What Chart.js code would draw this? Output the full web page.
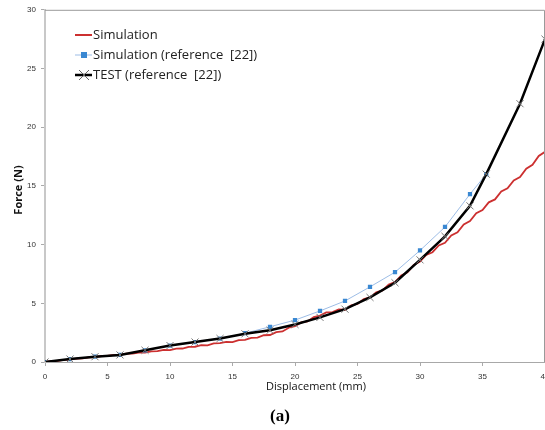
<!DOCTYPE html>
<html>
<head>
<meta charset="utf-8">
<script src="https://cdn.jsdelivr.net/npm/chart.js@4.4.7/dist/chart.umd.min.js"></script>
<style>
  html, body { margin: 0; padding: 0; background: #fff; overflow: hidden; }
  #wrap { width: 545px; height: 430px; overflow: hidden; }
</style>
</head>
<body>
<div id="wrap"><canvas id="chart" width="560" height="430"></canvas></div>
<script>
// Simulation (red, noisy) - read every 0.5 mm
const simX = [0,0.5,1,1.5,2,2.5,3,3.5,4,4.5,5,5.5,6,6.5,7,7.5,8,8.5,9,9.5,10,10.5,11,11.5,12,12.5,13,13.5,14,14.5,15,15.5,16,16.5,17,17.5,18,18.5,19,19.5,20,20.5,21,21.5,22,22.5,23,23.5,24,24.5,25,25.5,26,26.5,27,27.5,28,28.5,29,29.5,30,30.5,31,31.5,32,32.5,33,33.5,34,34.5,35,35.5,36,36.5,37,37.5,38,38.5,39,39.5,40];
const simY = [0,0.08,0.1,0.18,0.2,0.28,0.3,0.40,0.42,0.51,0.52,0.61,0.62,0.72,0.72,0.81,0.8,0.91,0.92,1.03,1.02,1.14,1.15,1.29,1.3,1.43,1.42,1.58,1.6,1.72,1.7,1.87,1.88,2.06,2.08,2.28,2.3,2.55,2.6,2.92,3.05,3.37,3.45,3.82,3.95,4.22,4.25,4.47,4.45,4.82,4.95,5.36,5.5,5.94,6.1,6.6,6.8,7.38,7.65,8.26,8.55,9.12,9.35,9.93,10.15,10.78,11.05,11.71,12.0,12.67,12.95,13.6,13.85,14.52,14.8,15.47,15.75,16.47,16.8,17.55,17.9];

// Simulation (reference [22]) - blue squares
const refX = [0,2,4,6,8,10,12,14,16,18,20,22,24,26,28,30,32,34,35.3];
const refY = [0,0.25,0.45,0.6,1.0,1.4,1.7,2.0,2.45,3.0,3.57,4.35,5.2,6.4,7.65,9.5,11.5,14.3,16.0];

// TEST (reference [22]) - black with x markers
const testX = [0,2,4,6,8,10,12,14,16,18,20,22,24,26,28,30,32,34,35.3,38,40];
const testY = [0,0.25,0.45,0.6,1.0,1.4,1.7,2.0,2.4,2.7,3.2,3.8,4.5,5.5,6.75,8.7,10.7,13.3,16.0,22.0,27.5];

const xTicks = [0,5,10,15,20,25,30,35,40];
const yTicks = [0,5,10,15,20,25,30];

const legendLabels = ['Simulation', 'Simulation (reference  [22])', 'TEST (reference  [22])'];
const xTitle = 'Displacement (mm)';
const yTitle = 'Force (N)';
const caption = '(a)';

const toPts = (xs, ys) => xs.map((x, i) => ({ x: x, y: ys[i] }));

const RED = '#cc3030';
const BLUE = '#3a88d2';
const BLUE_LINE = '#9dbde6';
const tickFont = { family: "'Liberation Sans', Arial, sans-serif", size: 8 };

const overlay = {
    id: 'overlay',
    afterDraw(chart) {
        const ctx = chart.ctx;
        const a = chart.chartArea;
        ctx.save();
        // frame top/right
        ctx.strokeStyle = '#9a9a9a';
        ctx.lineWidth = 1;
        ctx.beginPath();
        ctx.moveTo(a.left, a.top + 0.5);
        ctx.lineTo(a.right - 0.5, a.top + 0.5);
        ctx.lineTo(a.right - 0.5, a.bottom);
        ctx.stroke();

        // legend
        ctx.font = "13px 'Open Sans', 'Liberation Sans', sans-serif";
        ctx.textBaseline = 'middle';
        ctx.fillStyle = '#222';
        const rows = [35, 55, 75];
        const lx0 = 75, lx1 = 92;
        rows.forEach((ry, i) => {
            ctx.beginPath();
            if (i === 0) { ctx.strokeStyle = RED; ctx.lineWidth = 2; }
            else if (i === 1) { ctx.strokeStyle = BLUE_LINE; ctx.lineWidth = 1; }
            else { ctx.strokeStyle = '#000'; ctx.lineWidth = 2.5; }
            ctx.moveTo(lx0, ry); ctx.lineTo(lx1, ry); ctx.stroke();
            if (i === 1) {
                ctx.fillStyle = BLUE;
                ctx.fillRect(lx0 + 6, ry - 3, 6, 6);
            }
            if (i === 2) {
                ctx.strokeStyle = '#666'; ctx.lineWidth = 1;
                ctx.beginPath();
                ctx.moveTo(lx0 + 4, ry - 5); ctx.lineTo(lx0 + 14, ry + 5);
                ctx.moveTo(lx0 + 4, ry + 5); ctx.lineTo(lx0 + 14, ry - 5);
                ctx.stroke();
            }
            ctx.fillStyle = '#222';
            ctx.textAlign = 'left';
            ctx.fillText(legendLabels[i], lx1 + 1, ry);
        });

        // axis titles
        ctx.fillStyle = '#111';
        ctx.font = "11px 'Open Sans', 'Liberation Sans', sans-serif";
        ctx.textAlign = 'center';
        ctx.fillText(xTitle, 316, 387);
        ctx.save();
        ctx.translate(19, 190);
        ctx.rotate(-Math.PI / 2);
        ctx.font = "bold 11px 'Open Sans', 'Liberation Sans', sans-serif";
        ctx.fillText(yTitle, 0, 0);
        ctx.restore();

        // caption
        ctx.font = "bold 17px 'Liberation Serif', 'DejaVu Serif', serif";
        ctx.fillStyle = '#000';
        ctx.fillText(caption, 280, 417);
        ctx.restore();
    }
};

new Chart(document.getElementById('chart'), {
    type: 'scatter',
    data: {
        datasets: [{
            label: legendLabels[0],
            data: toPts(simX, simY),
            showLine: true,
            borderColor: RED,
            borderWidth: 1.8,
            pointRadius: 0,
            tension: 0,
            order: 3
        }, {
            label: legendLabels[1],
            data: toPts(refX, refY),
            showLine: true,
            borderColor: BLUE_LINE,
            borderWidth: 1,
            pointStyle: 'rect',
            pointRadius: 3,
            backgroundColor: BLUE,
            pointBorderColor: BLUE,
            pointBorderWidth: 0,
            tension: 0,
            order: 2
        }, {
            label: legendLabels[2],
            data: toPts(testX, testY),
            showLine: true,
            borderColor: '#000',
            borderWidth: 2.5,
            pointStyle: 'crossRot',
            pointRadius: 5,
            pointBorderColor: '#777',
            pointBorderWidth: 1,
            tension: 0,
            order: 1
        }]
    },
    options: {
        responsive: false,
        animation: false,
        layout: { padding: { top: 9, right: 15, bottom: 0, left: 0 } },
        plugins: { legend: { display: false }, tooltip: { enabled: false } },
        scales: {
            x: {
                type: 'linear',
                min: 0, max: 40,
                afterBuildTicks: s => { s.ticks = xTicks.map(v => ({ value: v })); },
                afterFit: s => { s.height = 68; },
                ticks: { font: tickFont, color: '#333', padding: 6, maxRotation: 0 },
                grid: { drawOnChartArea: false, drawTicks: true, tickLength: 4, color: '#aaa' },
                border: { display: true, color: '#a8a8a8', width: 1 }
            },
            y: {
                type: 'linear',
                min: 0, max: 30,
                afterBuildTicks: s => { s.ticks = yTicks.map(v => ({ value: v })); },
                afterFit: s => { s.width = 45; },
                ticks: { font: tickFont, color: '#333', padding: 5 },
                grid: { drawOnChartArea: false, drawTicks: true, tickLength: 4, color: '#aaa' },
                border: { display: true, color: '#c8c8c8', width: 2 }
            }
        }
    },
    plugins: [overlay]
});
</script>
</body>
</html>
